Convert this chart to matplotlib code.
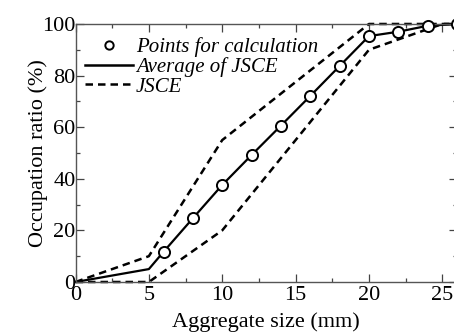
import matplotlib
matplotlib.use("Agg")
import matplotlib.pyplot as plt
from matplotlib.ticker import MultipleLocator

plt.rcParams['font.family'] = ['Liberation Serif', 'DejaVu Serif']

# points used for calculation
pts_x = [6, 8, 10, 12, 14, 16, 18, 20, 22, 24, 26]
pts_y = [11.7, 24.7, 37.6, 49.2, 60.6, 72.1, 83.7, 95.3, 97.0, 99.3, 100]

# average of JSCE (line through origin and 5 mm, then the points)
avg_x = [0, 5] + pts_x
avg_y = [0, 5] + pts_y

# JSCE grading limits
upper_x = [0, 5, 10, 20, 26]
upper_y = [0, 10, 55, 100, 100]
lower_x = [0, 5, 10, 20, 25, 26]
lower_y = [0, 0, 20, 90, 100, 100]

fig = plt.figure(figsize=(4.54, 3.33), dpi=100)
ax = fig.add_axes([0.1663, 0.1532, 0.8403, 0.7748])

dash = (3.0, 2.0)
ax.plot(upper_x, upper_y, 'k--', lw=1.8, dashes=dash, clip_on=False)
ax.plot(lower_x, lower_y, 'k--', lw=1.8, dashes=dash, clip_on=False)
ax.plot(avg_x, avg_y, 'k-', lw=1.6, clip_on=False)
ax.plot(pts_x, pts_y, 'o', ms=8, mfc='white', mec='black', mew=1.4,
        clip_on=False, zorder=5)

# legend handles
h1, = ax.plot([], [], 'o', ms=6, mfc='white', mec='black', mew=1.4)
h2, = ax.plot([], [], 'k-', lw=1.8)
h3, = ax.plot([], [], 'k--', lw=1.8, dashes=dash)
ax.legend([h1, h2, h3], ['Points for calculation', 'Average of JSCE', 'JSCE'],
          loc='upper left', bbox_to_anchor=(-0.008, 0.997), frameon=False,
          prop={'style': 'italic', 'size': 15}, handlelength=2.3,
          handletextpad=0.15, labelspacing=0.0, borderaxespad=0.2)

ax.set_xlim(0, 26)
ax.set_ylim(0, 100)
ax.xaxis.set_major_locator(MultipleLocator(5))
ax.xaxis.set_minor_locator(MultipleLocator(2.5))
ax.yaxis.set_major_locator(MultipleLocator(20))
ax.yaxis.set_minor_locator(MultipleLocator(10))
ax.tick_params(which='both', direction='in', top=True, right=True,
               labelsize=16, width=0.9, color='#444444')
ax.tick_params(which='major', length=6)
ax.tick_params(axis='x', which='major', pad=3)
ax.tick_params(axis='y', which='major', pad=0)
ax.tick_params(which='minor', length=3)
for s in ax.spines.values():
    s.set_linewidth(1.0)
    s.set_color('#555555')

ax.set_xlabel('Aggregate size (mm)', fontsize=16, labelpad=5)
ax.set_ylabel('Occupation ratio (%)', fontsize=16)
ax.yaxis.set_label_coords(-0.072, 0.5)

fig.savefig('out.png', dpi=100)
